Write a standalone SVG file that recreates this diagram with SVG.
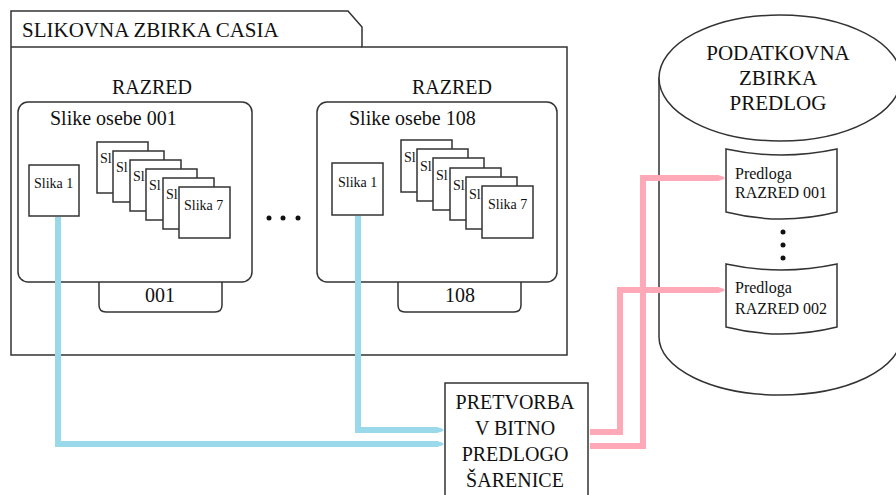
<svg xmlns="http://www.w3.org/2000/svg" width="896" height="495" viewBox="0 0 896 495">
<defs>
<style>
.ln{fill:none;stroke:#333;stroke-width:1.5}
.bx{fill:#fff;stroke:#333;stroke-width:1.5}
.t{font-family:"Liberation Serif","Times New Roman",serif;fill:#111}
.big{font-size:20px}
.sm{font-size:14px}
.md{font-size:16px}
.blue{fill:none;stroke:#99d9ea;stroke-width:6}
.pink{fill:none;stroke:#ffa8b7;stroke-width:6}
</style>
<marker id="ab" markerUnits="userSpaceOnUse" markerWidth="8" markerHeight="8" refX="1" refY="4" orient="auto"><path d="M0,1 L5,2.5 L7,4 L5,5.5 L0,7 Z" fill="#99d9ea"/></marker>
<marker id="ap" markerUnits="userSpaceOnUse" markerWidth="8" markerHeight="8" refX="1" refY="4" orient="auto"><path d="M0,1 L5,2.5 L7,4 L5,5.5 L0,7 Z" fill="#ffa8b7"/></marker>
</defs>
<rect width="896" height="495" fill="#fff"/>

<g id="folder">
<path class="bx" d="M11,355 L11,11 L348,11 L362,27 L362,47 L567,47 L567,355 Z"/>
<line class="ln" x1="11" y1="47" x2="362" y2="47"/>
<text class="t" x="22" y="37" font-size="21">SLIKOVNA ZBIRKA CASIA</text>
</g>

<g id="class001">
<text class="t big" x="152" y="94" text-anchor="middle">RAZRED</text>
<path class="bx" d="M99,282 L99,305 Q99,312 106,312 L215,312 Q222,312 222,305 L222,282"/>
<rect class="bx" x="18" y="102" width="234" height="180" rx="10"/>
<text class="t big" x="160" y="302" text-anchor="middle">001</text>
<text class="t big" x="50" y="125">Slike osebe 001</text>
<g id="c1img1"><rect class="bx" x="29" y="165" width="50" height="51"/><text class="t sm" x="34" y="188">Slika 1</text></g>
<g id="c1stack">
<rect class="bx" x="97" y="142" width="51" height="51"/><text class="t sm" x="100" y="163">Sl</text>
<rect class="bx" x="113" y="151" width="51" height="51"/><text class="t sm" x="116" y="172">Sl</text>
<rect class="bx" x="130" y="160" width="51" height="51"/><text class="t sm" x="133" y="181">Sl</text>
<rect class="bx" x="146" y="169" width="51" height="51"/><text class="t sm" x="149" y="190">Sl</text>
<rect class="bx" x="163" y="178" width="51" height="51"/><text class="t sm" x="166" y="199">Sl</text>
<rect class="bx" x="179" y="187" width="51" height="51"/><text class="t sm" x="184" y="210">Slika 7</text>
</g>
</g>

<g id="dots">
<circle cx="269" cy="218" r="2.5" fill="#111"/>
<circle cx="283" cy="218" r="2.5" fill="#111"/>
<circle cx="298" cy="218" r="2.5" fill="#111"/>
</g>

<g id="class108">
<text class="t big" x="452" y="94" text-anchor="middle">RAZRED</text>
<path class="bx" d="M398,282 L398,305 Q398,312 405,312 L514,312 Q521,312 521,305 L521,282"/>
<rect class="bx" x="317" y="102" width="240" height="180" rx="10"/>
<text class="t big" x="460" y="302" text-anchor="middle">108</text>
<text class="t big" x="349" y="125">Slike osebe 108</text>
<g id="c2img1"><rect class="bx" x="332" y="163" width="51" height="52"/><text class="t sm" x="338" y="187">Slika 1</text></g>
<g id="c2stack">
<rect class="bx" x="401" y="140" width="51" height="52"/><text class="t sm" x="404" y="162">Sl</text>
<rect class="bx" x="417" y="149" width="51" height="52"/><text class="t sm" x="420" y="171">Sl</text>
<rect class="bx" x="433" y="158" width="51" height="52"/><text class="t sm" x="436" y="180">Sl</text>
<rect class="bx" x="450" y="168" width="51" height="52"/><text class="t sm" x="453" y="190">Sl</text>
<rect class="bx" x="466" y="177" width="51" height="52"/><text class="t sm" x="469" y="199">Sl</text>
<rect class="bx" x="482" y="186" width="51" height="52"/><text class="t sm" x="488" y="209">Slika 7</text>
</g>
</g>

<g id="database">
<path class="bx" d="M659,78 L659,337 A121,58 0 0 0 901,337 L901,78 Z"/>
<ellipse class="bx" cx="780" cy="78" rx="121" ry="63"/>
<text class="t" font-size="21" text-anchor="middle"><tspan x="778" y="60">PODATKOVNA</tspan><tspan x="778" y="85">ZBIRKA</tspan><tspan x="778" y="110">PREDLOG</tspan></text>
<circle cx="783" cy="232" r="2.5" fill="#111"/>
<circle cx="783" cy="245" r="2.5" fill="#111"/>
<circle cx="783" cy="258" r="2.5" fill="#111"/>
</g>

<g id="predloga001">
<path class="bx" d="M726,149 Q781,161 837,149 L837,212 Q781,226 726,212 Z"/>
<text class="t md"><tspan x="735" y="179">Predloga</tspan><tspan x="735" y="198">RAZRED 001</tspan></text>
</g>
<g id="predloga002">
<path class="bx" d="M726,264 Q781,276 837,264 L837,327 Q781,341 726,327 Z"/>
<text class="t md"><tspan x="735" y="293">Predloga</tspan><tspan x="735" y="314">RAZRED 002</tspan></text>
</g>

<g id="pretvorba">
<rect class="bx" x="445" y="383" width="143" height="130"/>
<text class="t big" text-anchor="middle"><tspan x="515" y="409">PRETVORBA</tspan><tspan x="515" y="435">V BITNO</tspan><tspan x="515" y="461">PREDLOGO</tspan><tspan x="515" y="487">ŠARENICE</tspan></text>
</g>

<g id="connectors">
<path class="blue" d="M58,217 L58,444 L438,444" marker-end="url(#ab)"/>
<path class="blue" d="M358,216 L358,430 L438,430" marker-end="url(#ab)"/>
<path class="pink" d="M590,432 L620,432 L620,290 L719,290" marker-end="url(#ap)"/>
<path class="pink" d="M590,446 L643,446 L643,178 L719,178" marker-end="url(#ap)"/>
</g>
</svg>
